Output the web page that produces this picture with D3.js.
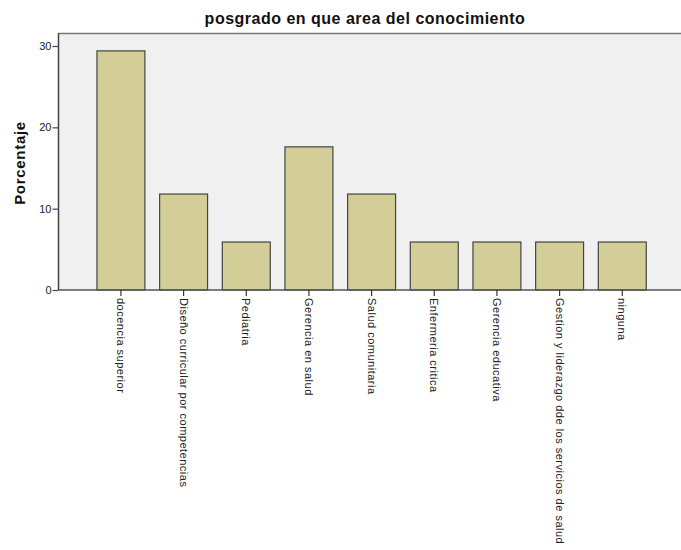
<!DOCTYPE html>
<html><head><meta charset="utf-8">
<script src="https://cdn.jsdelivr.net/npm/d3@7"></script>
<style>body{margin:0;background:#fff}svg{display:block;font-family:"Liberation Sans",Arial,sans-serif}</style>
</head><body><svg id="c" width="681" height="550"></svg>
<script>
const categories = ["docencia superior","Diseño curricular por competencias","Pediatria","Gerencia en salud","Salud comunitaria","Enfermeria critica","Gerencia educativa","Gestion y liderazgo dde los servicios de salud","ninguna"];
const values = [29.4,11.8,5.9,17.6,11.8,5.9,5.9,5.9,5.9];
const yTicks = [0,10,20,30];
const title = "posgrado en que area del conocimiento";
const yLabel = "Porcentaje";

const svg = d3.select("#c");
const plotL = 58.5, plotR = 690, plotT = 33, plotB = 290;
const y = d3.scaleLinear().domain([0, 31.6]).range([plotB, plotT]);
const x = d3.scaleBand().domain(categories).range([89.6, 653.6]).paddingInner(0.235).paddingOuter(0.1175);

svg.append("rect").attr("x",plotL).attr("y",plotT).attr("width",plotR-plotL).attr("height",plotB-plotT)
  .attr("fill","#f0f0f0");
svg.append("line").attr("x1",plotL).attr("x2",plotR).attr("y1",plotT+0.5).attr("y2",plotT+0.5)
  .attr("stroke","#777").attr("stroke-width",1.5);

svg.selectAll("rect.bar").data(values).join("rect").attr("class","bar")
  .attr("x",(d,i)=>x(categories[i])).attr("width",x.bandwidth())
  .attr("y",d=>y(d)).attr("height",d=>plotB-y(d))
  .attr("fill","#d3ce97").attr("stroke","#444").attr("stroke-width",1.2);

const ya = svg.append("g").attr("transform",`translate(${plotL},0)`)
  .call(d3.axisLeft(y).tickValues(yTicks).tickSize(6).tickPadding(1));
ya.select(".domain").attr("stroke","#444").attr("stroke-width",1.5).attr("d",`M0,${plotT}V${plotB}`);
ya.selectAll(".tick line").attr("stroke","#444").attr("stroke-width",1.2);
ya.selectAll(".tick text").attr("font-size",11).attr("fill","#222").attr("font-family","Liberation Sans, Arial, sans-serif");

const xa = svg.append("g").attr("transform",`translate(0,${plotB})`)
  .call(d3.axisBottom(x).tickSize(6).tickSizeOuter(0));
xa.select(".domain").attr("stroke","#555").attr("stroke-width",1.5).attr("d",`M${plotL},0H${plotR}`);
xa.selectAll(".tick line").attr("stroke","#333").attr("stroke-width",1.2);
xa.selectAll(".tick text").attr("font-size",11).attr("letter-spacing","0.5px").attr("fill","#222")
  .attr("font-family","Liberation Sans, Arial, sans-serif")
  .attr("transform","rotate(90)").attr("text-anchor","start").attr("dy","0.35em").attr("y",0).attr("x",8);

svg.append("text").attr("x",365).attr("y",24).attr("text-anchor","middle")
  .attr("font-size",16).attr("letter-spacing","0.5px").attr("font-weight","bold").attr("fill","#111").text(title);
svg.append("text").attr("transform","translate(25,163) rotate(-90)").attr("text-anchor","middle")
  .attr("font-size",15).attr("letter-spacing","0.7px").attr("font-weight","bold").attr("fill","#111").text(yLabel);
</script></body></html>
